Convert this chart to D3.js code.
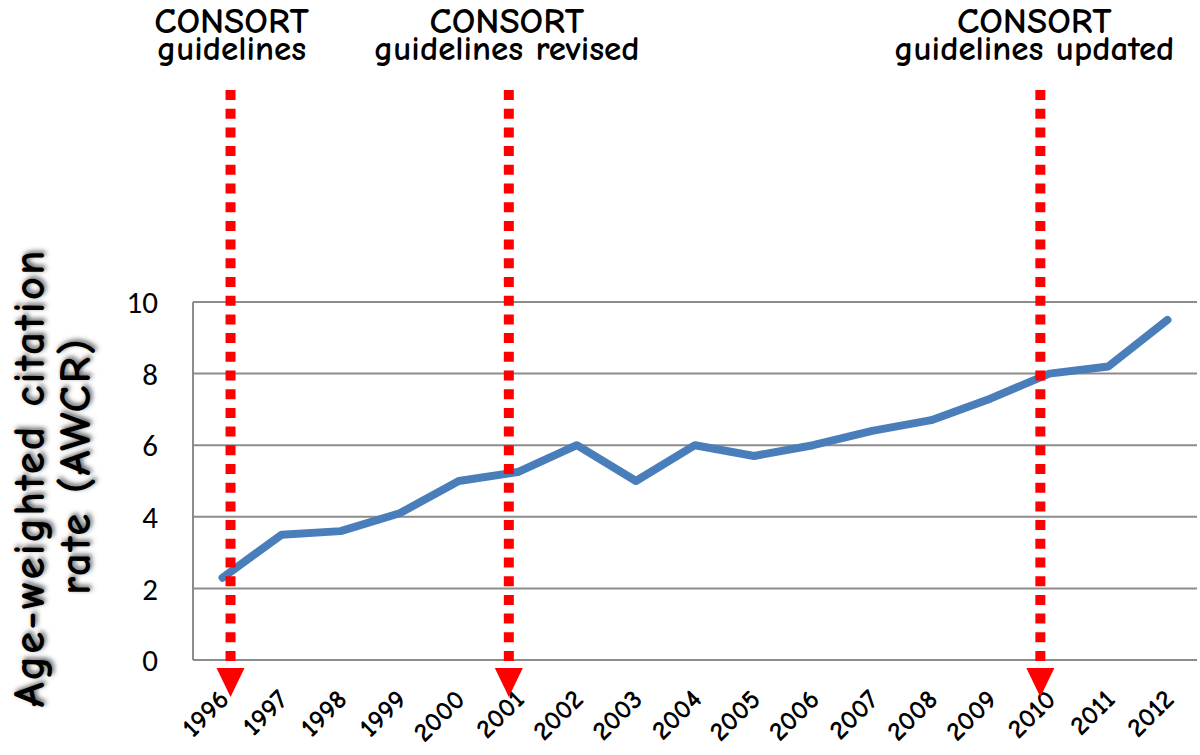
<!DOCTYPE html>
<html>
<head>
<meta charset="utf-8">
<script src="https://cdn.jsdelivr.net/npm/d3@7"></script>
<style>
  body { margin: 0; background: #fff; }
  svg { display: block; }
</style>
</head>
<body>
<svg id="chart" width="1200" height="755"></svg>
<script>
// chart values
var years = [1996, 1997, 1998, 1999, 2000, 2001, 2002, 2003, 2004, 2005, 2006, 2007, 2008, 2009, 2010, 2011, 2012];
var awcr = [2.3, 3.5, 3.6, 4.1, 5.0, 5.25, 6.0, 5.0, 6.0, 5.7, 6.0, 6.4, 6.7, 7.3, 8.0, 8.2, 9.5];
var yTicks = [0, 2, 4, 6, 8, 10];
var eventYears = [1996, 2001, 2010];
var eventLabels = [
    ["CONSORT", "guidelines"],
    ["CONSORT", "guidelines revised"],
    ["CONSORT", "guidelines updated"]
];
var yTitle = ["Age-weighted citation", "rate (AWCR)"];

var comic = "'Comic Sans MS', 'Comic Neue', 'DejaVu Sans', sans-serif";
var plain = "Calibri, Carlito, 'Open Sans', 'Liberation Sans', sans-serif";

var plotLeft = 193, plotRight = 1197, plotTop = 302, plotBottom = 660;

var svg = d3.select("#chart");

var x = d3.scaleBand()
    .domain(years)
    .range([plotLeft, plotRight]);

var y = d3.scaleLinear()
    .domain([0, 10])
    .range([plotBottom, plotTop]);

// gridlines
svg.append("g")
    .selectAll("line")
    .data(yTicks)
    .enter()
    .append("line")
    .attr("x1", plotLeft)
    .attr("x2", plotRight)
    .attr("y1", d => y(d))
    .attr("y2", d => y(d))
    .attr("stroke", "#8c8c8c")
    .attr("stroke-width", 2);

// left axis line
svg.append("line")
    .attr("x1", plotLeft).attr("x2", plotLeft)
    .attr("y1", y(10)).attr("y2", y(0))
    .attr("stroke", "#8c8c8c")
    .attr("stroke-width", 2);

// y tick labels
svg.append("g")
    .selectAll("text")
    .data(yTicks)
    .enter()
    .append("text")
    .attr("x", 158)
    .attr("y", d => y(d))
    .attr("dy", "0.36em")
    .attr("text-anchor", "end")
    .attr("font-family", plain)
    .attr("font-size", 31)
    .attr("fill", "#000")
    .text(d => d);

// x tick labels, rotated
svg.append("g")
    .selectAll("text")
    .data(years)
    .enter()
    .append("text")
    .attr("transform", d => "translate(" + (x(d) + x.bandwidth() / 2 + 8) + ",701) rotate(-45)")
    .attr("text-anchor", "end")
    .attr("font-family", comic)
    .attr("font-size", 27)
    .attr("font-weight", "bold")
    .attr("fill", "#000")
    .text(d => d);

// data line
var line = d3.line()
    .x((d, i) => x(years[i]) + x.bandwidth() / 2)
    .y(d => y(d));

svg.append("path")
    .datum(awcr)
    .attr("d", line)
    .attr("fill", "none")
    .attr("stroke", "#4a7ebb")
    .attr("stroke-width", 8)
    .attr("stroke-linejoin", "round")
    .attr("stroke-linecap", "round");

// event arrows + labels
var nudges = [8, -9, -9];
var labelShift = [1, -2, -6];
var arrows = svg.append("g");
eventYears.forEach(function(yr, i) {
    var cx = x(yr) + x.bandwidth() / 2 + nudges[i];
    arrows.append("line")
        .attr("x1", cx).attr("x2", cx)
        .attr("y1", 90).attr("y2", 668)
        .attr("stroke", "#ff0000")
        .attr("stroke-width", 10)
        .attr("stroke-dasharray", "10,8.7");
    arrows.append("path")
        .attr("d", "M" + (cx - 14) + ",668 L" + (cx + 14) + ",668 L" + cx + ",697 Z")
        .attr("fill", "#ff0000");

    eventLabels[i].forEach(function(s, k) {
        svg.append("text")
            .attr("x", cx + labelShift[i])
            .attr("y", k === 0 ? 33 : 60)
            .attr("text-anchor", "middle")
            .attr("font-family", comic)
            .attr("font-weight", "bold")
            .attr("font-size", k === 0 ? 37 : 35)
            .attr("fill", "#000")
            .text(s);
    });
});

// y axis title with soft shadow
var defs = svg.append("defs");
defs.append("filter")
    .attr("id", "blur")
    .attr("x", "-10%").attr("y", "-10%")
    .attr("width", "120%").attr("height", "120%")
    .append("feGaussianBlur")
    .attr("stdDeviation", 2.5);

[true, false].forEach(function(shadow) {
    var t = svg.append("text")
        .attr("transform", "translate(56,478) rotate(-90)")
        .attr("text-anchor", "middle")
        .attr("font-family", comic)
        .attr("font-size", 45)
        .attr("font-weight", "bold")
        .attr("letter-spacing", 2)
        .attr("fill", shadow ? "#555" : "#000");
    if (shadow) t.attr("filter", "url(#blur)");
    yTitle.forEach(function(s, k) {
        t.append("tspan")
            .attr("x", (k === 0 ? 0 : 12) + (shadow ? 2 : 0))
            .attr("y", (k === 0 ? -12 : 34) + (shadow ? 2 : 0))
            .text(s);
    });
});
</script>
</body>
</html>
